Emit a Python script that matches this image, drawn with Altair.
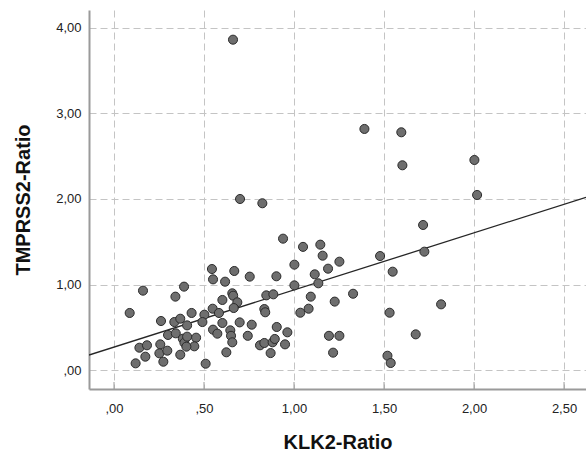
import altair as alt
import pandas as pd

klk2 = [0.70, 0.824, 0.939, 1.05, 1.146, 1.159, 1.252, 1.189, 1.135, 1.328, 1.226, 1.194, 1.252, 1.217,
        1.478, 1.548, 1.717, 1.724, 1.531, 1.817, 1.676, 1.519, 1.537, 2.017, 0.661, 1.391, 1.596, 1.602,
        2.002, 0.161, 0.087, 0.389, 0.341, 0.544, 0.55, 0.668, 0.754, 0.617, 0.902, 1.002, 1.115, 1.002,
        0.657, 0.662, 0.602, 0.685, 0.665, 0.846, 0.885, 0.835, 0.84, 1.093, 1.081, 1.035, 0.548, 0.502,
        0.583, 0.491, 0.602, 0.698, 0.765, 0.904, 0.963, 0.55, 0.574, 0.646, 0.65, 0.657, 0.624, 0.743,
        0.811, 0.835, 0.881, 0.893, 0.95, 0.87, 0.509, 0.431, 0.261, 0.335, 0.368, 0.406, 0.30, 0.343,
        0.382, 0.391, 0.406, 0.456, 0.446, 0.402, 0.368, 0.257, 0.252, 0.296, 0.274, 0.141, 0.183, 0.174,
        0.12]
tmprss2 = [2.00, 1.95, 1.536, 1.44, 1.466, 1.337, 1.267, 1.185, 1.014, 0.892, 0.80, 0.40, 0.40, 0.203,
           1.333, 1.15, 1.696, 1.384, 0.67, 0.768, 0.417, 0.167, 0.082, 2.047, 3.863, 2.819, 2.78, 2.394,
           2.456, 0.928, 0.667, 0.975, 0.858, 1.181, 1.06, 1.158, 1.092, 1.033, 1.096, 1.232, 1.119, 0.99,
           0.897, 0.869, 0.819, 0.792, 0.725, 0.873, 0.885, 0.713, 0.675, 0.858, 0.717, 0.67, 0.717, 0.647,
           0.667, 0.561, 0.55, 0.557, 0.53, 0.503, 0.441, 0.472, 0.425, 0.464, 0.40, 0.324, 0.207, 0.40,
           0.289, 0.316, 0.324, 0.363, 0.30, 0.198, 0.074, 0.667, 0.573, 0.561, 0.60, 0.522, 0.41, 0.429,
           0.366, 0.319, 0.39, 0.378, 0.277, 0.273, 0.179, 0.30, 0.195, 0.226, 0.097, 0.261, 0.289, 0.156,
           0.078]

x_ticks = [0.0, 0.5, 1.0, 1.5, 2.0, 2.5]
y_ticks = [0.0, 1.0, 2.0, 3.0, 4.0]
x_domain = [-0.139, 2.622]
y_domain = [-0.222, 4.21]
fit_intercept = 0.268
fit_slope = 0.668

pts = pd.DataFrame({"x": klk2, "y": tmprss2})
fit = pd.DataFrame({"x": x_domain, "y": [fit_intercept + fit_slope * v for v in x_domain]})
ticks = pd.DataFrame({"x": x_ticks})

FONT = "Liberation Sans"
W, H = 497, 379

label_expr = ("datum.value < 1 ? substring(replace(format(datum.value,'.2f'),'.',','),1)"
              " : replace(format(datum.value,'.2f'),'.',',')")

xscale = alt.Scale(domain=x_domain, nice=False, zero=False)
yscale = alt.Scale(domain=y_domain, nice=False, zero=False)

xaxis = alt.Axis(values=x_ticks, labelExpr=label_expr, title="KLK2-Ratio", tickSize=0,
                 labelPadding=13, titlePadding=17, grid=True)
yaxis = alt.Axis(values=y_ticks, labelExpr=label_expr, title="TMPRSS2-Ratio", tickSize=0,
                 labelPadding=8, titlePadding=22, grid=True)

points = alt.Chart(pts).mark_point(
    filled=True, shape="circle", size=82, color="#6e6e6e", stroke="#2b2b2b",
    strokeWidth=1, opacity=1, clip=True
).encode(
    x=alt.X("x:Q", scale=xscale, axis=xaxis),
    y=alt.Y("y:Q", scale=yscale, axis=yaxis),
)

line = alt.Chart(fit).mark_line(color="#262626", strokeWidth=1.3, clip=True).encode(
    x=alt.X("x:Q", scale=xscale),
    y=alt.Y("y:Q", scale=yscale),
)

xtick_marks = alt.Chart(ticks).mark_rule(color="#9a9a9a", strokeWidth=1).encode(
    x=alt.X("x:Q", scale=xscale),
    y=alt.value(H - 7),
    y2=alt.value(H),
)

chart = alt.layer(xtick_marks, line, points).properties(
    width=W, height=H,
    autosize=alt.AutoSizeParams(type="none"),
    padding={"left": 89, "top": 10, "right": 0, "bottom": 71},
    background="white",
).configure_view(strokeWidth=0).configure_axis(
    labelFont=FONT, labelFontSize=13, labelColor="#222222",
    titleFont=FONT, titleFontSize=20, titleFontWeight="bold", titleColor="#111111",
    domainColor="#9a9a9a", domainWidth=2,
    gridColor="#c4c4c4", gridDash=[7, 4], gridWidth=1,
)

chart.save("out.html", embed_options={"renderer": "svg", "actions": False})
